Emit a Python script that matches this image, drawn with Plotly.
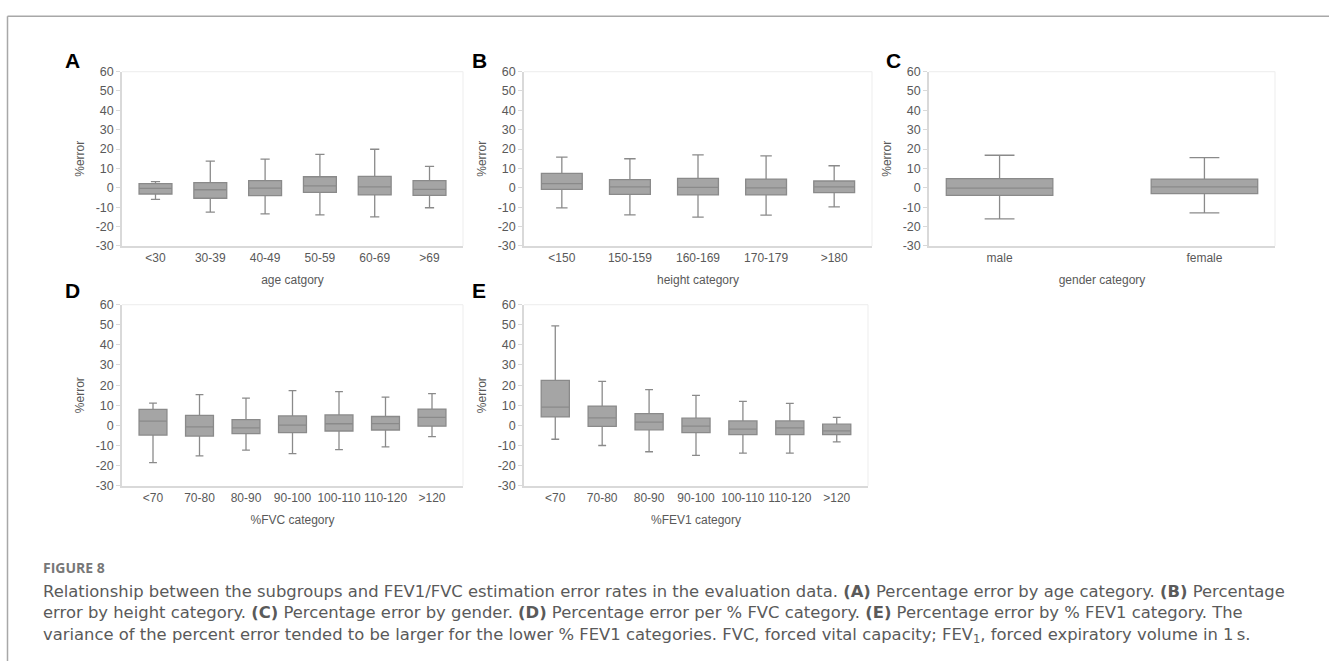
import plotly.graph_objects as go

W, H = 1329, 668

# ---------------- data ----------------
age_cats = ["<30", "30-39", "40-49", "50-59", "60-69", ">69"]
age_low = [-6.0, -12.6, -13.5, -14.0, -15.0, -10.3]
age_q1 = [-3.2, -5.4, -4.0, -2.4, -3.7, -3.9]
age_med = [-0.3, -1.0, -0.2, 1.0, 0.5, -0.8]
age_q3 = [2.2, 2.7, 3.7, 5.7, 5.9, 3.7]
age_high = [3.2, 13.8, 14.8, 17.3, 19.9, 11.1]

height_cats = ["<150", "150-159", "160-169", "170-179", ">180"]
height_low = [-10.4, -14.0, -15.1, -14.1, -9.8]
height_q1 = [-0.8, -3.4, -3.7, -3.7, -2.5]
height_med = [2.2, 0.5, 0.2, 0.0, 0.5]
height_q3 = [7.4, 4.2, 4.9, 4.5, 3.5]
height_high = [15.8, 15.0, 17.0, 16.5, 11.4]

gender_cats = ["male", "female"]
gender_low = [-16.0, -13.0]
gender_q1 = [-3.9, -3.0]
gender_med = [-0.2, 0.5]
gender_q3 = [4.7, 4.5]
gender_high = [16.8, 15.6]

fvc_cats = ["<70", "70-80", "80-90", "90-100", "100-110", "110-120", ">120"]
fvc_low = [-18.5, -15.2, -12.3, -14.0, -12.0, -10.7, -5.6]
fvc_q1 = [-4.8, -5.3, -4.1, -3.6, -2.8, -2.3, -0.4]
fvc_med = [2.1, -0.7, -1.2, 0.1, 0.8, 0.9, 4.0]
fvc_q3 = [8.0, 5.0, 2.9, 4.7, 5.2, 4.4, 8.1]
fvc_high = [11.1, 15.3, 13.5, 17.3, 16.8, 14.0, 15.8]

fev1_cats = ["<70", "70-80", "80-90", "90-100", "100-110", "110-120", ">120"]
fev1_low = [-6.9, -10.0, -13.1, -14.9, -13.8, -13.8, -8.2]
fev1_q1 = [4.2, -0.5, -2.2, -3.6, -4.6, -4.6, -4.6]
fev1_med = [9.1, 3.7, 1.6, -0.4, -1.9, -1.2, -2.7]
fev1_q3 = [22.4, 9.6, 5.8, 3.6, 2.2, 2.2, 0.6]
fev1_high = [49.4, 21.9, 17.8, 14.9, 11.9, 10.9, 4.0]

y_ticks = [-30, -20, -10, 0, 10, 20, 30, 40, 50, 60]

# ---------------- layout helpers ----------------
def px(x):
    return x / W

def py(y):
    return 1 - y / H

panels = [
    ("A", age_cats, age_low, age_q1, age_med, age_q3, age_high, "age catgory", (122, 463, 66, 244), 0.6),
    ("B", height_cats, height_low, height_q1, height_med, height_q3, height_high, "height category", (524, 872, 66, 244), 0.6),
    ("C", gender_cats, gender_low, gender_q1, gender_med, gender_q3, gender_high, "gender category", (929, 1275, 66, 244), 0.52),
    ("D", fvc_cats, fvc_low, fvc_q1, fvc_med, fvc_q3, fvc_high, "%FVC category", (122, 463, 304, 489), 0.6),
    ("E", fev1_cats, fev1_low, fev1_q1, fev1_med, fev1_q3, fev1_high, "%FEV1 category", (524, 868, 304, 489), 0.6),
]

fig = go.Figure()
layout = {}
annotations = []
shapes = []

FAM = "Liberation Sans, Arial, sans-serif"
ytick_font = dict(family=FAM, size=12.5, color="#595959")
xtick_font = dict(family=FAM, size=12, color="#595959")
title_font = dict(family=FAM, size=12, color="#595959")

for i, (letter, cats, lo, q1, med, q3, hi, xt, (x0, x1, y0, y1), bw) in enumerate(panels):
    n = i + 1
    xa = "x" if n == 1 else f"x{n}"
    ya = "y" if n == 1 else f"y{n}"
    fig.add_trace(go.Box(
        x=cats, q1=q1, median=med, q3=q3, lowerfence=lo, upperfence=hi,
        xaxis=xa, yaxis=ya,
        fillcolor="#a5a5a5", line=dict(color="#8a8a8a", width=1.3),
        whiskerwidth=0.28, boxpoints=False, showlegend=False,
        hoverinfo="skip", width=bw,
    ))
    xkey = "xaxis" if n == 1 else f"xaxis{n}"
    ykey = "yaxis" if n == 1 else f"yaxis{n}"
    layout[xkey] = dict(
        domain=[px(x0), px(x1)], anchor=ya, type="category",
        showgrid=False, zeroline=False, showline=True, linecolor="#d9d9d9", linewidth=1.5,
        ticks="", tickfont=xtick_font, tickangle=0,
        title=dict(text=xt, font=title_font, standoff=12),
        fixedrange=True,
    )
    layout[ykey] = dict(
        domain=[py(y1), py(y0)], anchor=xa, range=[-30, 60],
        tickvals=y_ticks, ticktext=[str(v) for v in y_ticks],
        showgrid=False, zeroline=False, showline=True, linecolor="#d9d9d9", linewidth=1.5,
        ticks="outside", ticklen=4, tickcolor="#d9d9d9", tickfont=ytick_font,
        title=dict(text="%error", font=title_font, standoff=8),
        fixedrange=True,
    )
    shapes.append(dict(type="line", xref="paper", yref="paper", x0=px(x0), x1=px(x1), y0=py(y0), y1=py(y0),
                       line=dict(color="#f0f0f0", width=1.2)))
    shapes.append(dict(type="line", xref="paper", yref="paper", x0=px(x1), x1=px(x1), y0=py(y0), y1=py(y1),
                       line=dict(color="#f0f0f0", width=1.2)))
    lx = 72 if x0 < 300 else (479 if x0 < 700 else 893)
    ly = 55 if y0 < 200 else 290
    annotations.append(dict(text=f"<b>{letter}</b>", x=px(lx), y=py(ly), xref="paper", yref="paper",
                            showarrow=False, xanchor="center", yanchor="middle",
                            font=dict(family=FAM, size=21, color="#000000")))

# outer frame (top and left)
shapes.append(dict(type="line", xref="paper", yref="paper", x0=px(7.5), x1=1, y0=py(9.5), y1=py(9.5),
                   line=dict(color="#a8a8a8", width=1.5)))
shapes.append(dict(type="line", xref="paper", yref="paper", x0=px(7.5), x1=px(7.5), y0=py(9.5), y1=0,
                   line=dict(color="#a8a8a8", width=1.5)))

annotations.append(dict(text="<b>FIGURE 8</b>", x=px(41), y=py(572), xref="paper", yref="paper",
                        showarrow=False, xanchor="left", yanchor="middle",
                        font=dict(family="Open Sans, sans-serif", size=14, color="#777777")))
cap_lines = [
    "Relationship between the subgroups and FEV1/FVC estimation error rates in the evaluation data. <b>(A)</b> Percentage error by age category. <b>(B)</b> Percentage",
    "error by height category. <b>(C)</b> Percentage error by gender. <b>(D)</b> Percentage error per % FVC category. <b>(E)</b> Percentage error by % FEV1 category. The",
    "variance of the percent error tended to be larger for the lower % FEV1 categories. FVC, forced vital capacity; FEV<sub>1</sub>, forced expiratory volume in 1\u2009s.",
]
annotations.append(dict(text="<br>".join(cap_lines), x=px(41), y=py(620), xref="paper", yref="paper",
                        showarrow=False, xanchor="left", yanchor="middle", align="left",
                        font=dict(family="DejaVu Sans, sans-serif", size=16.4, color="#5a5a5a")))

fig.update_layout(
    width=W, height=H, margin=dict(l=0, r=0, t=0, b=0),
    paper_bgcolor="white", plot_bgcolor="white",
    annotations=annotations, shapes=shapes, showlegend=False,
    **layout,
)

fig.write_html("out.html", config={"displayModeBar": False})
